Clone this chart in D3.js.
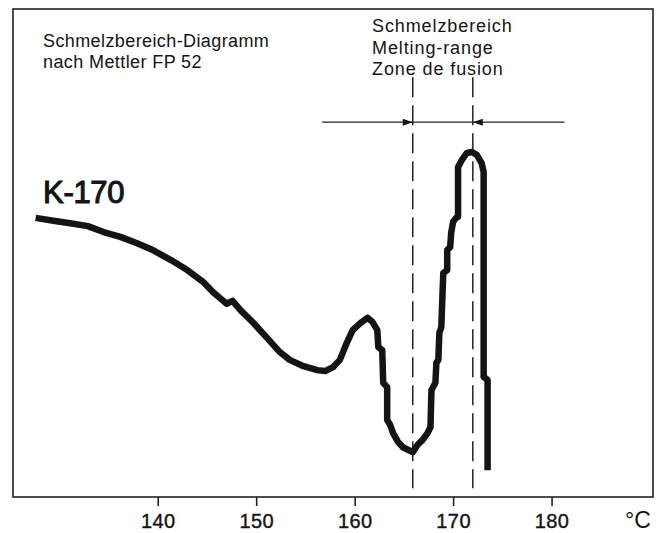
<!DOCTYPE html>
<html>
<head>
<meta charset="utf-8">
<script src="https://cdn.jsdelivr.net/npm/d3@7"></script>
<style>
  body { margin: 0; background: #fff; }
  text { font-family: "Liberation Sans", Arial, Helvetica, sans-serif; fill: #151515; }
</style>
</head>
<body>
<svg id="chart"></svg>
<script>
// melting curve: temperature in °C, signal in arbitrary units (0-100)
var temps = [127.6, 129.4, 131.1, 132.9, 134.5, 136.2, 137.9, 139.5, 141.3, 143.0,
  144.6, 145.6, 146.3, 147.0, 147.6, 148.4, 149.7, 151.1, 152.4, 153.4,
  154.8, 156.2, 157.0, 157.8, 158.5, 159.2, 159.8, 160.6, 161.3,
  161.8, 162.3, 162.4, 162.8, 162.9, 163.3, 163.3, 163.6, 163.9, 164.4,
  164.9, 165.9, 166.4, 166.9, 167.4, 167.7, 167.8, 168.2, 168.3, 168.5,
  168.6, 168.8, 168.9, 169.0, 169.4, 169.4, 169.7, 169.8, 170.0, 170.3,
  170.5, 170.5, 170.9, 171.4, 171.9, 172.4, 172.9, 173.1, 173.1, 173.5, 173.5];
var signal = [57.2, 56.6, 56.1, 55.5, 54.3, 53.3, 52.0, 50.6, 48.6, 46.5,
  44.1, 42.0, 40.8, 39.6, 40.2, 38.3, 35.7, 32.6, 29.7, 28.1,
  26.8, 26.0, 25.8, 26.6, 28.1, 31.6, 34.2, 35.7, 36.7,
  35.9, 34.2, 30.7, 30.1, 23.4, 22.5, 15.8, 14.8, 13.1, 11.3,
  10.2, 9.2, 10.7, 11.7, 13.1, 14.3, 21.9, 23.4, 27.5, 28.1,
  33.6, 34.8, 40.4, 45.9, 46.5, 50.6, 51.2, 54.1, 56.4, 57.2,
  57.4, 67.6, 69.1, 70.5, 70.7, 70.1, 68.4, 66.6, 24.6, 24.0, 5.5];

var tickValues = [140, 150, 160, 170, 180];
var unitLabel = "°C";
var titleLines = ["Schmelzbereich-Diagramm", "nach Mettler FP 52"];
var rangeLabels = ["Schmelzbereich", "Melting-range", "Zone de fusion"];
var sampleName = "K-170";

// melting range markers
var meltStart = 165.9, meltEnd = 172.0;
var arrowFrom = 156.7, arrowTo = 181.3, arrowLevel = 76.8;
var markerTop = 86, markerBottom = 1.8;

var width = 660, height = 533;
var margin = {top: 9, right: 7, bottom: 36, left: 13};

var svg = d3.select("#chart")
    .attr("width", width)
    .attr("height", height);

var x = d3.scaleLinear()
    .domain([125.3, 190.3])
    .range([margin.left, width - margin.right]);

var y = d3.scaleLinear()
    .domain([0, 100])
    .range([height - margin.bottom, margin.top]);

// frame
svg.append("rect")
    .attr("x", margin.left)
    .attr("y", margin.top)
    .attr("width", width - margin.left - margin.right)
    .attr("height", height - margin.top - margin.bottom)
    .attr("fill", "none")
    .attr("stroke", "#222")
    .attr("stroke-width", 1.6);

// x axis
var xAxis = svg.append("g")
    .attr("transform", "translate(0," + (height - margin.bottom) + ")")
    .call(d3.axisBottom(x)
      .tickValues(tickValues)
      .tickSize(9)
      .tickPadding(8)
      .tickFormat(d3.format("d")));
xAxis.select(".domain").remove();
xAxis.selectAll(".tick line").attr("stroke", "#222").attr("stroke-width", 1.6);
xAxis.selectAll(".tick text")
    .style("font-family", "'Liberation Sans', Arial, sans-serif")
    .style("font-size", "20px")
    .style("letter-spacing", "0.4px")
    .attr("fill", "#151515")
    .attr("stroke", "#151515")
    .attr("stroke-width", 0.4);

svg.append("text")
    .attr("x", 638)
    .attr("y", height - 5)
    .attr("text-anchor", "middle")
    .style("font-size", "23px")
    .text(unitLabel);

// titles
svg.selectAll(".title")
    .data(titleLines)
  .enter().append("text")
    .attr("class", "title")
    .attr("x", 43)
    .attr("y", function(d, i) { return 47 + i * 21; })
    .style("font-size", "18px")
    .style("letter-spacing", "0.4px")
    .text(function(d) { return d; });

svg.selectAll(".range-label")
    .data(rangeLabels)
  .enter().append("text")
    .attr("class", "range-label")
    .attr("x", 372)
    .attr("y", function(d, i) { return 32 + i * 21.5; })
    .style("font-size", "18px")
    .style("letter-spacing", "0.9px")
    .text(function(d) { return d; });

svg.append("text")
    .attr("x", 43)
    .attr("y", 203)
    .style("font-size", "31px")
    .style("letter-spacing", "-0.3px")
    .attr("stroke", "#151515")
    .attr("stroke-width", 1.1)
    .text(sampleName);

// dashed markers
svg.selectAll(".marker")
    .data([meltStart, meltEnd])
  .enter().append("line")
    .attr("class", "marker")
    .attr("x1", function(d) { return x(d); })
    .attr("x2", function(d) { return x(d); })
    .attr("y1", y(markerTop))
    .attr("y2", y(markerBottom))
    .attr("stroke", "#222")
    .attr("stroke-width", 1.5)
    .attr("stroke-dasharray", "20,8");

// arrow line
svg.append("line")
    .attr("x1", x(arrowFrom))
    .attr("x2", x(arrowTo))
    .attr("y1", y(arrowLevel))
    .attr("y2", y(arrowLevel))
    .attr("stroke", "#222")
    .attr("stroke-width", 1.3);

var ay = y(arrowLevel);
svg.selectAll(".arrowhead")
    .data([{t: meltStart, dir: 1}, {t: meltEnd, dir: -1}])
  .enter().append("path")
    .attr("class", "arrowhead")
    .attr("d", function(d) {
      var tip = x(d.t), base = tip - d.dir * 10;
      return "M" + tip + "," + ay + "L" + base + "," + (ay - 3.5) + "L" + base + "," + (ay + 3.5) + "Z";
    })
    .attr("fill", "#151515");

// melting curve
var points = temps.map(function(t, i) { return [t, signal[i]]; });
var line = d3.line()
    .x(function(d) { return x(d[0]); })
    .y(function(d) { return y(d[1]); })
    .curve(d3.curveLinear);

svg.append("path")
    .datum(points)
    .attr("d", line)
    .attr("fill", "none")
    .attr("stroke", "#141414")
    .attr("stroke-width", 6.5)
    .attr("stroke-linejoin", "round")
    .attr("stroke-linecap", "butt");
</script>
</body>
</html>
